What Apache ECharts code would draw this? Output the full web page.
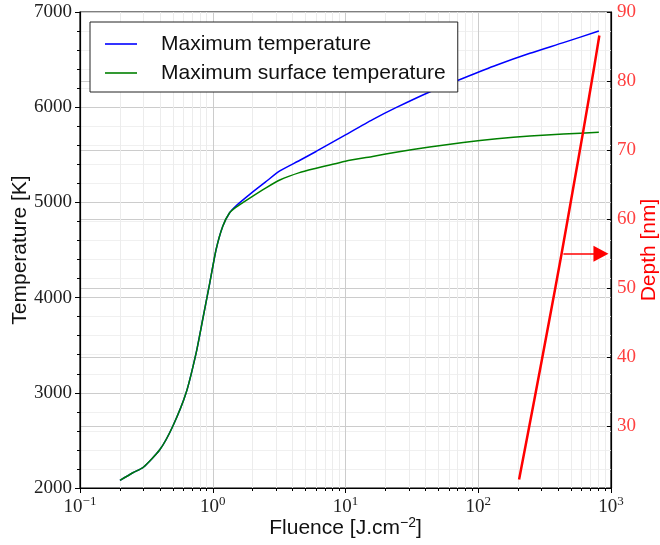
<!DOCTYPE html>
<html>
<head>
<meta charset="utf-8">
<script src="https://cdn.jsdelivr.net/npm/echarts@6/dist/echarts.min.js"></script>
<style>
  html, body { margin: 0; padding: 0; background: #fff; }
  #chart { width: 660px; height: 545px; }
</style>
</head>
<body>
<div id="chart"></div>
<script>
// values
const fluence = [0.2, 0.25, 0.3, 0.4, 0.5, 0.63, 0.75, 0.84, 0.95, 1.06, 1.19, 1.34,
  1.5, 1.9, 2.5, 3.2, 4.5, 6.0, 10, 16, 24, 43, 77, 138, 245, 438, 810];
const maxTemp = [2080, 2160, 2218, 2404, 2649, 3000, 3420, 3770, 4155, 4505, 4750, 4891,
  4965, 5085, 5215, 5330, 5440, 5535, 5710, 5870, 5995, 6160, 6304, 6443, 6566, 6678, 6800];
const maxSurfTemp = [2080, 2160, 2218, 2404, 2649, 3000, 3420, 3770, 4155, 4505, 4750, 4891,
  4950, 5045, 5150, 5235, 5313, 5358, 5433, 5483, 5526, 5582, 5630, 5668, 5697, 5718, 5736];

const depthFluence = [203, 265, 344, 425, 522, 616, 742, 817];
const depth = [22.3, 33.9, 45.5, 55.05, 64.75, 72.6, 81.7, 86.6];

const arrowFluence = [438, 840];
const arrowDepth = 55.0;

const depthTicks = [30, 40, 50, 60, 70, 80, 90];
const minorFluenceTicks = [0.2, 0.3, 0.4, 0.5, 0.6, 0.7, 0.8, 0.9, 2, 3, 4, 5, 6, 7, 8, 9,
  20, 30, 40, 50, 60, 70, 80, 90, 200, 300, 400, 500, 600, 700, 800, 900];

const serif = "Liberation Serif";
const sans = "Liberation Sans";

const supRich = {
  b: { fontFamily: serif, fontSize: 19, color: "#222", lineHeight: 24 },
  s: { fontFamily: serif, fontSize: 13, color: "#222", lineHeight: 14, verticalAlign: "top" },
};

function powLabel(v) {
  const e = Math.round(Math.log10(v));
  return `{b|10}{s|${e < 0 ? "\u2212" + (-e) : e}}`;
}

function pairs(xs, ys) {
  return xs.map((x, i) => [x, ys[i]]);
}

const chart = echarts.init(document.getElementById("chart"));
chart.setOption({
  animation: false,
  backgroundColor: "#fff",
  grid: {
    left: 80, right: 49, top: 12, bottom: 57,
    outerBoundsMode: "none",
    show: true, borderColor: "#000", borderWidth: 1.2,
  },
  legend: {
    data: ["Maximum temperature", "Maximum surface temperature"],
    orient: "vertical",
    left: 90,
    top: 22,
    padding: [11, 12, 8, 15],
    itemGap: 7,
    itemWidth: 32,
    itemHeight: 1.6,
    icon: "rect",
    backgroundColor: "#fff",
    borderColor: "#222",
    borderWidth: 1,
    textStyle: { fontFamily: sans, fontSize: 21, lineHeight: 22, color: "#111", padding: [0, 0, 0, 19] },
  },
  xAxis: [{
    type: "log",
    logBase: 10,
    min: 0.1,
    max: 1000,
    position: "bottom",
    axisLine: { show: true, onZero: false, lineStyle: { color: "#000", width: 1.2 } },
    axisTick: { show: true, length: 5, lineStyle: { color: "#000" } },
    axisLabel: { margin: 7, formatter: powLabel, rich: supRich },
    splitLine: { show: true, lineStyle: { color: "#cccccc" } },
    name: "{n|Fluence [J.cm}{s|\u22122}{n|]}",
    nameLocation: "middle",
    nameGap: 28,
    nameMoveOverlap: false,
    nameTextStyle: {
      rich: {
        n: { fontFamily: sans, fontSize: 21, color: "#111", lineHeight: 24 },
        s: { fontFamily: sans, fontSize: 14, color: "#111", lineHeight: 14, verticalAlign: "top" },
      },
    },
  }, {
    type: "log",
    logBase: 10,
    min: 0.1,
    max: 1000,
    position: "bottom",
    axisLine: { show: false },
    axisLabel: { show: false },
    axisTick: { show: true, length: 3, customValues: minorFluenceTicks, lineStyle: { color: "#000" } },
    splitLine: { show: true, lineStyle: { color: "#ececec" } },
  }],
  yAxis: [{
    type: "value",
    min: 2000,
    max: 7000,
    interval: 1000,
    position: "left",
    axisLine: { show: true, lineStyle: { color: "#000", width: 1.2 } },
    axisTick: { show: true, length: 5, lineStyle: { color: "#000" } },
    minorTick: { show: true, splitNumber: 5, length: 3, lineStyle: { color: "#000" } },
    axisLabel: { fontFamily: serif, fontSize: 19, color: "#222", margin: 8, formatter: (v) => String(v) },
    splitLine: { show: true, lineStyle: { color: "#cccccc" } },
    minorSplitLine: { show: true, lineStyle: { color: "#f0f0f0" } },
    name: "Temperature [K]",
    nameLocation: "middle",
    nameGap: 49,
    nameMoveOverlap: false,
    nameTextStyle: { fontFamily: sans, fontSize: 21, color: "#111" },
  }, {
    type: "value",
    min: 21.06,
    max: 90,
    position: "right",
    axisLine: { show: true, lineStyle: { color: "#000", width: 1.2 } },
    axisTick: { show: true, inside: true, length: 4, customValues: depthTicks, lineStyle: { color: "#000" } },
    axisLabel: { customValues: depthTicks, fontFamily: serif, fontSize: 19, color: "#ff4040", margin: 6 },
    splitLine: { show: true, lineStyle: { color: "#cccccc" } },
    name: "Depth [nm]",
    nameLocation: "middle",
    nameGap: 28,
    nameMoveOverlap: false,
    nameTextStyle: { fontFamily: sans, fontSize: 21, color: "#ff0000" },
  }],
  series: [{
    name: "Maximum temperature",
    type: "line",
    xAxisIndex: 0,
    yAxisIndex: 0,
    data: pairs(fluence, maxTemp),
    symbol: "none",
    smooth: 0.2,
    lineStyle: { color: "#0000ff", width: 1.5 },
    itemStyle: { color: "#0000ff" },
  }, {
    name: "Maximum surface temperature",
    type: "line",
    xAxisIndex: 0,
    yAxisIndex: 0,
    data: pairs(fluence, maxSurfTemp),
    symbol: "none",
    smooth: 0.2,
    lineStyle: { color: "#008000", width: 1.5 },
    itemStyle: { color: "#008000" },
  }, {
    name: "Depth",
    type: "line",
    xAxisIndex: 0,
    yAxisIndex: 1,
    data: pairs(depthFluence, depth),
    symbol: "none",
    smooth: 0.3,
    lineStyle: { color: "#ff0000", width: 2.5 },
    itemStyle: { color: "#ff0000" },
    markLine: {
      silent: true,
      symbol: ["none", "triangle"],
      symbolSize: [16, 15],
      label: { show: false },
      lineStyle: { color: "#ff0000", width: 1.5, type: "solid" },
      data: [[{ coord: [arrowFluence[0], arrowDepth] }, { coord: [arrowFluence[1], arrowDepth] }]],
    },
  }],
});
</script>
</body>
</html>
